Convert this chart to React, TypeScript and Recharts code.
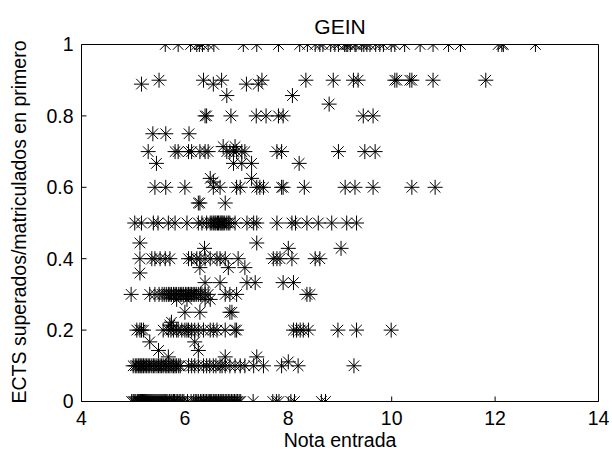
import React from 'react';
import { ScatterChart, Scatter, XAxis, YAxis } from 'recharts';

// x values (Nota entrada) grouped by ratio level
const at0 = [4.97, 5.0, 5.02, 5.05, 5.08, 5.1, 5.12, 5.14, 5.16, 5.18, 5.2, 5.22, 5.24, 5.26, 5.28, 5.3, 5.32, 5.34, 5.36, 5.38, 5.4, 5.42, 5.44, 5.46, 5.48, 5.5, 5.52, 5.54, 5.56, 5.58, 5.6, 5.62, 5.64, 5.67, 5.7, 5.73, 5.75, 5.78, 5.8, 5.83, 5.86, 5.89, 5.92, 5.95, 5.98, 6.05, 6.12, 6.17, 6.2, 6.23, 6.26, 6.3, 6.33, 6.36, 6.39, 6.42, 6.45, 6.48, 6.5, 6.52, 6.55, 6.58, 6.6, 6.62, 6.65, 6.68, 6.7, 6.72, 6.75, 6.78, 6.81, 6.84, 6.87, 6.9, 6.93, 6.96, 6.99, 7.02, 7.05, 7.08, 7.32, 7.7, 7.77, 7.82, 8.05, 8.12, 8.64, 8.72];
const at01 = [5.0, 5.04, 5.07, 5.1, 5.13, 5.15, 5.17, 5.2, 5.23, 5.26, 5.29, 5.32, 5.36, 5.39, 5.42, 5.46, 5.49, 5.52, 5.55, 5.58, 5.62, 5.65, 5.68, 5.71, 5.75, 5.78, 5.81, 5.84, 5.88, 5.91, 6.07, 6.13, 6.19, 6.26, 6.36, 6.42, 6.48, 6.55, 6.6, 6.68, 6.72, 6.78, 6.87, 6.97, 7.07, 7.16, 7.33, 7.52, 7.87, 8.19, 9.27];
const at0111 = [8.0];
const at0125 = [5.68, 6.78, 7.39];
const at0143 = [5.49, 6.26];
const at0167 = [5.32, 6.19];
const at02 = [5.07, 5.13, 5.16, 5.2, 5.58, 5.68, 5.73, 5.78, 5.84, 5.87, 5.94, 6.0, 6.04, 6.07, 6.13, 6.19, 6.26, 6.36, 6.49, 6.55, 6.62, 6.78, 6.97, 7.0, 8.1, 8.16, 8.23, 8.29, 8.39, 8.96, 9.32, 9.99];
const at0214 = [5.71];
const at0222 = [5.74];
const at025 = [6.0, 6.29, 6.87, 6.91];
const at0286 = [5.84, 6.04, 6.39, 6.49];
const at03 = [4.96, 5.32, 5.42, 5.5, 5.56, 5.6, 5.64, 5.68, 5.71, 5.74, 5.78, 5.81, 5.84, 5.88, 5.91, 5.94, 5.97, 6.01, 6.04, 6.07, 6.1, 6.13, 6.16, 6.19, 6.22, 6.26, 6.3, 6.33, 6.39, 6.45, 6.78, 6.87, 7.0, 8.36, 8.42];
const at0333 = [6.39, 6.68, 7.2, 7.36, 7.9, 8.1];
const at036 = [5.13];
const at0375 = [6.29, 6.84, 7.16];
const at04 = [5.13, 5.36, 5.42, 5.52, 5.62, 5.71, 6.07, 6.13, 6.23, 6.29, 6.39, 6.49, 6.62, 6.68, 6.78, 7.03, 7.71, 7.78, 7.84, 8.07, 8.52, 8.61];
const at0429 = [6.38, 8.0, 9.02];
const at0444 = [5.13, 7.39];
const at05 = [5.03, 5.16, 5.39, 5.48, 5.68, 5.81, 6.04, 6.26, 6.33, 6.42, 6.49, 6.52, 6.55, 6.58, 6.6, 6.63, 6.65, 6.68, 6.7, 6.72, 6.74, 6.77, 6.81, 6.84, 6.87, 6.97, 7.2, 7.33, 7.39, 7.78, 8.07, 8.14, 8.36, 8.58, 8.84, 9.13, 9.32];
const at0556 = [6.26, 6.29, 6.78];
const at06 = [5.42, 5.63, 6.0, 6.55, 6.68, 7.0, 7.07, 7.39, 7.45, 7.52, 7.87, 7.9, 8.31, 9.1, 9.29, 9.64, 10.39, 10.84];
const at0615 = [6.55];
const at0625 = [6.49, 7.29];
const at0667 = [5.45, 6.94, 7.1, 7.29, 8.21];
const at07 = [5.29, 5.81, 5.87, 6.07, 6.13, 6.29, 6.39, 6.45, 6.81, 6.87, 6.94, 7.0, 7.1, 7.16, 7.78, 7.87, 8.97, 9.48, 9.68];
const at0714 = [6.74, 6.97];
const at075 = [5.38, 5.63, 6.08];
const at08 = [6.39, 6.42, 6.89, 7.38, 7.57, 7.81, 7.9, 9.45, 9.64];
const at0833 = [8.79];
const at0857 = [6.81, 8.08];
const at0889 = [5.16, 6.55, 7.19, 7.42];
const at09 = [5.5, 6.36, 6.71, 7.49, 8.34, 8.87, 9.26, 9.35, 10.06, 10.1, 10.35, 10.39, 10.8, 11.82];
const at1 = [5.62, 5.87, 6.11, 6.23, 6.28, 6.34, 6.45, 6.56, 7.13, 7.39, 7.81, 8.22, 8.37, 8.52, 8.61, 8.67, 8.82, 8.9, 8.97, 9.09, 9.12, 9.15, 9.2, 9.29, 9.31, 9.42, 9.46, 9.52, 9.58, 9.69, 9.77, 9.84, 9.99, 10.06, 10.25, 10.55, 10.8, 11.1, 11.33, 12.06, 12.13, 12.16, 12.78];

const levels: [number, number[]][] = [
  [0, at0], [0.1, at01], [0.111, at0111], [0.125, at0125], [0.143, at0143], [0.167, at0167],
  [0.2, at02], [0.214, at0214], [0.222, at0222], [0.25, at025], [0.286, at0286], [0.3, at03],
  [0.333, at0333], [0.36, at036], [0.375, at0375], [0.4, at04], [0.429, at0429], [0.444, at0444],
  [0.5, at05], [0.556, at0556], [0.6, at06], [0.615, at0615], [0.625, at0625], [0.667, at0667],
  [0.7, at07], [0.714, at0714], [0.75, at075], [0.8, at08], [0.833, at0833], [0.857, at0857],
  [0.889, at0889], [0.9, at09], [1, at1],
];

const xTicks = [4, 6, 8, 10, 12, 14];
const yTicks = [0, 0.2, 0.4, 0.6, 0.8, 1];

const points = levels.flatMap(([y, xs]) => xs.map((x) => ({ x, y })));

const FONT = '"Liberation Sans", Arial, Helvetica, sans-serif';

const Asterisk = (props: any) => {
  const { cx, cy } = props;
  if (cx == null || cy == null) return null;
  const r = 7.5;
  const d = 5.3;
  return (
    <g stroke="#000" strokeWidth={1}>
      <line x1={cx - r} y1={cy} x2={cx + r} y2={cy} />
      <line x1={cx} y1={cy - r} x2={cx} y2={cy + r} />
      <line x1={cx - d} y1={cy - d} x2={cx + d} y2={cy + d} />
      <line x1={cx - d} y1={cy + d} x2={cx + d} y2={cy - d} />
    </g>
  );
};

const tickStyle = { fill: '#000', fontSize: 19.5, fontFamily: FONT };

export default function App() {
  return (
    <div style={{ position: 'absolute', left: 0, top: 0, width: 612, height: 458, background: '#fff' }}>
      <ScatterChart width={612} height={458} margin={{ top: 43.5, right: 12.5, bottom: 0, left: 0 }}>
        <XAxis
          xAxisId="b"
          type="number"
          dataKey="x"
          domain={[4, 14]}
          ticks={xTicks}
          orientation="bottom"
          height={56.5}
          tickSize={-5}
          tickMargin={15}
          tick={tickStyle}
          axisLine={{ stroke: '#000' }}
          tickLine={{ stroke: '#000' }}
          allowDataOverflow
        />
        <XAxis
          xAxisId="t"
          type="number"
          domain={[4, 14]}
          ticks={xTicks}
          orientation="top"
          height={1}
          tickSize={-5}
          tick={false}
          axisLine={{ stroke: '#000' }}
          tickLine={{ stroke: '#000' }}
          allowDataOverflow
        />
        <YAxis
          yAxisId="l"
          type="number"
          dataKey="y"
          domain={[0, 1]}
          ticks={yTicks}
          orientation="left"
          width={81.5}
          tickSize={-5}
          tickMargin={13}
          tick={tickStyle}
          axisLine={{ stroke: '#000' }}
          tickLine={{ stroke: '#000' }}
          allowDataOverflow
        />
        <YAxis
          yAxisId="r"
          type="number"
          domain={[0, 1]}
          ticks={yTicks}
          orientation="right"
          width={1}
          tickSize={-5}
          tick={false}
          axisLine={{ stroke: '#000' }}
          tickLine={{ stroke: '#000' }}
          allowDataOverflow
        />
        <Scatter
          xAxisId="b"
          yAxisId="l"
          data={points}
          shape={<Asterisk />}
          isAnimationActive={false}
        />
      </ScatterChart>
      <svg
        width={612}
        height={458}
        style={{ position: 'absolute', left: 0, top: 0, pointerEvents: 'none' }}
      >
        <text x={340} y={34} textAnchor="middle" fontSize={21} fontFamily={FONT} fill="#000">GEIN</text>
        <text x={340} y={447} textAnchor="middle" fontSize={19.5} fontFamily={FONT} fill="#000">Nota entrada</text>
        <text
          x={0}
          y={0}
          transform="translate(26 222) rotate(-90)"
          textAnchor="middle"
          fontSize={19.5}
          fontFamily={FONT}
          fill="#000"
        >
          ECTS superados/matriculados en primero
        </text>
      </svg>
    </div>
  );
}
